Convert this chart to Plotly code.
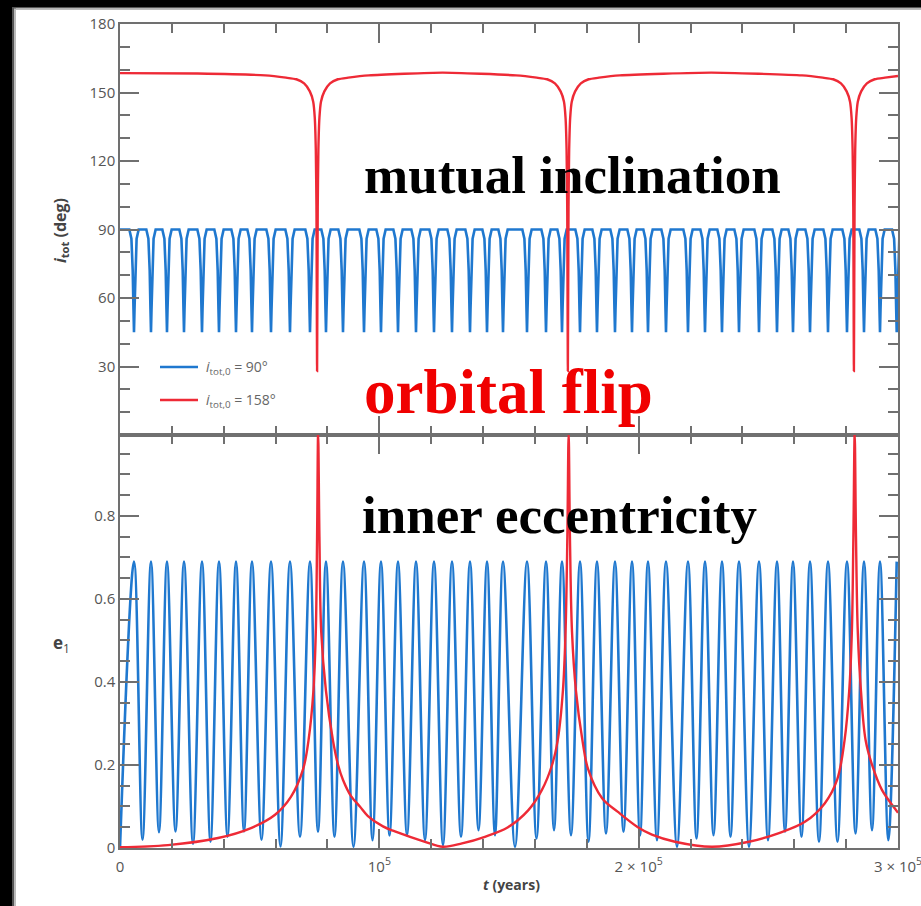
import plotly.graph_objects as go
from plotly.subplots import make_subplots

# ---------------- data ----------------
# times in kyr
# blue run (i_tot,0 = 90 deg): times of the eccentricity maxima / inclination minima
blue_peak_t = [5.40, 11.95, 18.12, 24.68, 31.62, 38.17, 44.73, 50.90, 58.23, 65.55,
               73.26, 79.43, 85.99, 94.09, 100.64, 107.20, 114.14, 121.08, 128.02, 134.96,
               141.52, 147.69, 156.94, 164.27, 170.44, 177.38, 183.93, 190.87, 197.43, 203.60,
               210.54, 219.02, 225.58, 232.13, 238.69, 246.40, 253.34, 259.51, 266.07, 273.01,
               280.33, 286.89, 293.06, 299.50]
# eccentricity minima between successive maxima
blue_e_min = [0.020, 0.038, 0.040, 0.010, 0.015, 0.027, 0.040, 0.020, 0.004, 0.027,
              0.039, 0.027, 0.003, 0.019, 0.030, 0.031, 0.019, 0.007, 0.027, 0.043,
              0.031, 0.003, 0.023, 0.043, 0.031, 0.015, 0.035, 0.039, 0.030, 0.019,
              0.003, 0.023, 0.031, 0.027, 0.003, 0.019, 0.039, 0.027, 0.015, 0.015,
              0.035, 0.043, 0.019]
blue_e_start = 0.0
blue_e_max = 0.69
blue_i_max = 90.0
# shape of one inclination dip (offset in kyr, inclination in deg)
dip_dt = [-1.8, -1.0, -0.5, -0.2, 0.0, 0.2, 0.5, 1.0, 1.8]
dip_i = [90.0, 86.0, 72.0, 55.0, 45.0, 55.0, 72.0, 86.0, 90.0]

# red run (i_tot,0 = 158 deg): inclination
red_i_t = [0, 30, 56, 64, 68, 71, 73.2, 74.5, 75.1, 75.5, 75.75, 76.0, 76.25, 76.5, 76.9, 77.5,
           78.8, 81, 84, 88, 96, 124.4,
           152.7, 160.7, 164.7, 167.7, 169.9, 171.2, 171.8, 172.2, 172.45, 172.7, 172.95, 173.2,
           173.6, 174.2, 175.5, 177.7, 180.7, 184.7, 192.7, 228,
           263, 271, 275, 278, 280.2, 281.5, 282.1, 282.5, 282.75, 283.0, 283.25, 283.5,
           283.9, 284.5, 285.8, 288, 291, 295, 300]
red_i = [158.5, 158.3, 157.5, 156.5, 155.8, 154, 150.5, 146, 139, 125, 100, 28, 100, 125, 139, 146,
         150.5, 154, 155.8, 156.5, 157.5, 158.7,
         157.5, 156.5, 155.8, 154, 150.5, 146, 139, 125, 100, 28, 100, 125,
         139, 146, 150.5, 154, 155.8, 156.5, 157.5, 158.7,
         157.5, 156.5, 155.8, 154, 150.5, 146, 139, 125, 100, 28, 100, 125,
         139, 146, 150.5, 154, 155.8, 156.5, 157.2]
# red run: inner eccentricity
red_e_t = [0, 18.5, 37.8, 50.5, 59.8, 65.9, 70.6, 72.7, 74.6, 75.5, 76.0, 76.4, 76.9, 77.6, 79.4,
           82.1, 84.1, 86.0, 89.1, 92.5, 95.6, 101.4, 106, 117.6, 124.5, 131.9, 140.7, 149.6,
           157.3, 162.7, 166.6, 168.8, 170.8, 171.8, 172.5, 173.0, 173.5, 174.3, 175.8, 178.3,
           180.5, 185.9, 192, 199.7, 205.1, 214, 228.3, 242.5, 254.1, 264.1, 271.8, 276.5,
           279.4, 281.2, 282.2, 282.8, 283.3, 283.8, 284.5, 285.7, 287.5, 290, 293.8, 298.8, 300]
red_e = [0.002, 0.007, 0.024, 0.048, 0.08, 0.123, 0.19, 0.26, 0.38, 0.52, 0.75, 0.999, 0.75, 0.52, 0.38,
         0.26, 0.20, 0.164, 0.125, 0.10, 0.077, 0.052, 0.040, 0.015, 0.003, 0.011, 0.027, 0.05,
         0.09, 0.14, 0.20, 0.26, 0.38, 0.52, 0.75, 0.999, 0.75, 0.52, 0.38, 0.26,
         0.19, 0.12, 0.087, 0.05, 0.032, 0.015, 0.003, 0.015, 0.036, 0.063, 0.108, 0.164,
         0.26, 0.38, 0.52, 0.75, 0.999, 0.75, 0.52, 0.38, 0.26, 0.20, 0.14, 0.095, 0.085]

x_tickvals = [0, 1e5, 2e5, 3e5]
x_ticktext = ["0", "10<sup>5</sup>", "2 × 10<sup>5</sup>", "3 × 10<sup>5</sup>"]
i_tickvals = [30, 60, 90, 120, 150, 180]
e_tickvals = [0, 0.2, 0.4, 0.6, 0.8]
e_ticktext = ["0", "0.2", "0.4", "0.6", "0.8"]
legend_labels = ["<i>i</i><sub>tot,0</sub> = 90°", "<i>i</i><sub>tot,0</sub> = 158°"]

# ---------------- assemble traces ----------------
KYR = 1000.0
be_x, be_y = [0.0], [blue_e_start]
for k, tp in enumerate(blue_peak_t):
    be_x.append(tp * KYR); be_y.append(blue_e_max)
    if k < len(blue_e_min):
        be_x.append(0.5 * (tp + blue_peak_t[k + 1]) * KYR); be_y.append(blue_e_min[k])

bi_x, bi_y = [0.0], [blue_i_max]
for tp in blue_peak_t:
    for dt, iv in zip(dip_dt, dip_i):
        bi_x.append((tp + dt) * KYR); bi_y.append(iv)

BLUE = "#1f78cf"
RED = "#ee2a36"
AX = "#707070"
TXT = "#555555"

fig = make_subplots(rows=2, cols=1, shared_xaxes=False, vertical_spacing=0)

fig.add_trace(go.Scatter(x=bi_x, y=bi_y, mode="lines", line=dict(color=BLUE, width=2.6),
                         showlegend=False), row=1, col=1)
fig.add_trace(go.Scatter(x=[t * KYR for t in red_i_t], y=red_i, mode="lines",
                         line=dict(color=RED, width=2.4, shape="spline", smoothing=0.5), showlegend=False), row=1, col=1)
fig.add_trace(go.Scatter(x=be_x, y=be_y, mode="lines", line=dict(color=BLUE, width=2.6, shape="spline", smoothing=1.0),
                         showlegend=False), row=2, col=1)
fig.add_trace(go.Scatter(x=[t * KYR for t in red_e_t], y=red_e, mode="lines",
                         line=dict(color=RED, width=2.4, shape="spline", smoothing=1.0), showlegend=False), row=2, col=1)

tickfont = dict(family="Open Sans", size=15, color=TXT)
common_x = dict(range=[0, 3e5], tickvals=x_tickvals, ticks="inside", ticklen=19, tickwidth=1.5,
                tickcolor=AX, showline=True, linecolor=AX, linewidth=1.5, mirror="ticks",
                showgrid=False, zeroline=False, automargin=False,
                minor=dict(dtick=2e4, ticks="inside", ticklen=9, tickwidth=1.5, tickcolor=AX, showgrid=False))
common_y = dict(ticks="inside", ticklen=19, tickwidth=1.5, tickcolor=AX, showline=True,
                linecolor=AX, linewidth=1.5, mirror="ticks", showgrid=False, zeroline=False,
                tickfont=tickfont, automargin=False)

fig.update_layout(
    xaxis=dict(**common_x, showticklabels=False, anchor="y"),
    xaxis2=dict(**common_x, ticktext=x_ticktext, tickfont=tickfont, anchor="y2", ticklabelstandoff=4,
                ticklabeloverflow="allow"),
    yaxis=dict(**common_y, range=[0, 180], tickvals=i_tickvals, domain=[0.5012, 1.0],
               minor=dict(dtick=10, ticks="inside", ticklen=10, tickwidth=1.5, tickcolor=AX, showgrid=False)),
    yaxis2=dict(**common_y, range=[0, 0.995], tickvals=e_tickvals, ticktext=e_ticktext, domain=[0.0, 0.5012],
                minor=dict(dtick=0.05, ticks="inside", ticklen=10, tickwidth=1.5, tickcolor=AX, showgrid=False)),
    width=921, height=906,
    margin=dict(l=120, r=23, t=24, b=58, autoexpand=False),
    paper_bgcolor="white", plot_bgcolor="white",
    showlegend=False,
)

W, H = 778.0, 824.0
def px(x):
    return (x - 120.0) / W
def py(y):
    return (848.0 - y) / H

shapes = [
    dict(type="rect", xref="paper", yref="paper", x0=px(0), x1=px(12), y0=py(906), y1=py(0),
         fillcolor="black", line=dict(width=0), layer="above"),
    dict(type="rect", xref="paper", yref="paper", x0=px(12), x1=px(14), y0=py(906), y1=py(0),
         fillcolor="#555555", line=dict(width=0), layer="above"),
    dict(type="rect", xref="paper", yref="paper", x0=px(14), x1=px(16), y0=py(906), y1=py(0),
         fillcolor="#bbbbbb", line=dict(width=0), layer="above"),
    dict(type="rect", xref="paper", yref="paper", x0=px(12), x1=px(921), y0=py(7), y1=py(0),
         fillcolor="black", line=dict(width=0), layer="above"),
    dict(type="rect", xref="paper", yref="paper", x0=px(14), x1=px(921), y0=py(8.5), y1=py(7),
         fillcolor="#555555", line=dict(width=0), layer="above"),
    dict(type="rect", xref="paper", yref="paper", x0=px(16), x1=px(921), y0=py(10), y1=py(8.5),
         fillcolor="#bbbbbb", line=dict(width=0), layer="above"),
]
# legend samples
for yy, col in [(367, BLUE), (400, RED)]:
    shapes.append(dict(type="line", xref="paper", yref="paper", x0=px(160), x1=px(198),
                       y0=py(yy), y1=py(yy), line=dict(color=col, width=2.6)))
fig.update_layout(shapes=shapes)

ann = []
for yy, lab in [(367, legend_labels[0]), (400, legend_labels[1])]:
    ann.append(dict(x=px(204), y=py(yy), xref="paper", yref="paper", text=lab, showarrow=False,
                    xanchor="left", yanchor="middle", font=dict(family="Open Sans", size=14, color="#666666")))
ann.append(dict(x=px(60), y=py(231), xref="paper", yref="paper", showarrow=False, textangle=-90,
                text="<b><i>i</i><sub>tot</sub> (deg)</b>", xanchor="center", yanchor="middle",
                font=dict(family="Open Sans", size=16, color="#444444")))
ann.append(dict(x=px(61), y=py(643), xref="paper", yref="paper", showarrow=False,
                text="<b>e</b><sub>1</sub>", xanchor="center", yanchor="middle",
                font=dict(family="Open Sans", size=17, color="#444444")))
ann.append(dict(x=px(511), y=py(885), xref="paper", yref="paper", showarrow=False,
                text="<b><i>t</i> (years)</b>", xanchor="center", yanchor="middle",
                font=dict(family="Open Sans", size=14, color="#444444")))
serif = "Liberation Serif"
ann.append(dict(x=px(362), y=py(175), xref="paper", yref="paper", showarrow=False,
                text="<b>mutual inclination</b>", xanchor="left", yanchor="middle",
                font=dict(family=serif, size=53, color="black")))
ann.append(dict(x=px(362), y=py(392), xref="paper", yref="paper", showarrow=False,
                text="<b>orbital flip</b>", xanchor="left", yanchor="middle",
                font=dict(family=serif, size=63, color="#f00000")))
ann.append(dict(x=px(360), y=py(515), xref="paper", yref="paper", showarrow=False,
                text="<b>inner eccentricity</b>", xanchor="left", yanchor="middle",
                font=dict(family=serif, size=53, color="black")))
fig.update_layout(annotations=ann)

fig.write_html("out.html", config={"displayModeBar": False})
